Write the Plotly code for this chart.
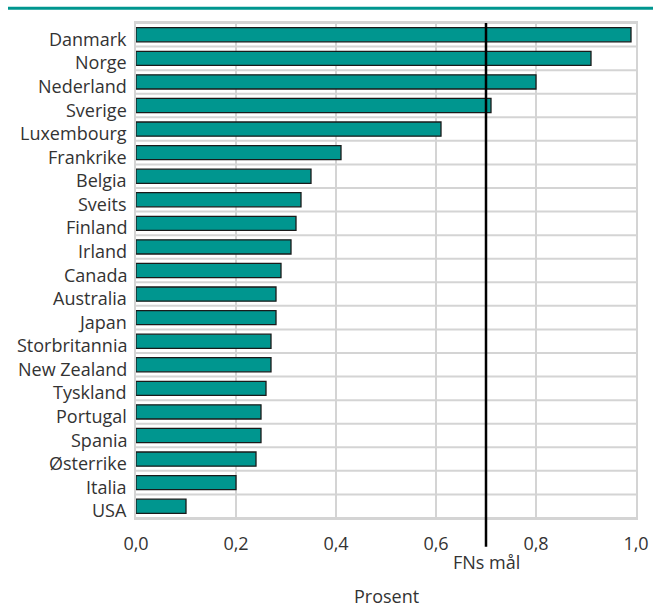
import plotly.graph_objects as go

countries = ["Danmark", "Norge", "Nederland", "Sverige", "Luxembourg", "Frankrike",
             "Belgia", "Sveits", "Finland", "Irland", "Canada", "Australia", "Japan",
             "Storbritannia", "New Zealand", "Tyskland", "Portugal", "Spania",
             "Østerrike", "Italia", "USA"]
values = [0.99, 0.91, 0.80, 0.71, 0.61, 0.41, 0.35, 0.33, 0.32, 0.31, 0.29, 0.28, 0.28,
          0.27, 0.27, 0.26, 0.25, 0.25, 0.24, 0.20, 0.10]
goal = 0.7
x_ticks = [0.0, 0.2, 0.4, 0.6, 0.8, 1.0]

teal = "#00968F"
grid = "#D4D4D4"
txt = "#333333"

pos = list(range(len(countries)))
bounds = [i - 0.5 for i in range(len(countries) + 1)]

fig = go.Figure()
fig.add_trace(go.Bar(
    x=values, y=pos, orientation="h", width=0.6,
    hovertext=countries, hoverinfo="text+x",
    marker=dict(color=teal, line=dict(color="#1a1a1a", width=1.3)),
))

fig.update_layout(
    width=653, height=606,
    margin=dict(l=136, r=17, t=23, b=88),
    paper_bgcolor="white", plot_bgcolor="white",
    font=dict(family="Open Sans, Noto Sans, sans-serif", size=18, color=txt),
    separators=", ",
    showlegend=False,
    xaxis=dict(range=[0, 1.0], tickvals=x_ticks, tickformat=".1f",
               showgrid=True, gridcolor=grid, gridwidth=2,
               zeroline=False, showline=True, mirror=True, linecolor=grid,
               linewidth=2, ticks="",
               ticklabelstandoff=8, fixedrange=True, automargin=False),
    yaxis=dict(range=[len(countries) - 0.5, -0.5], showticklabels=False,
               showgrid=False, zeroline=False, ticks="",
               showline=True, mirror=True, linecolor=grid, linewidth=2,
               automargin=False, fixedrange=True),
)

# horizontal grid lines at category boundaries
for b in bounds:
    fig.add_shape(type="line", xref="paper", yref="y", x0=0, x1=1, y0=b, y1=b,
                  layer="below", line=dict(color=grid, width=2))

# category labels (slightly below bar centre, as in the reference)
for p, c in zip(pos, countries):
    fig.add_annotation(x=0, xref="paper", y=p, yref="y", text=c, showarrow=False,
                       xanchor="right", yanchor="middle", xshift=-7, yshift=-4,
                       font=dict(size=18, color=txt))

# goal line
fig.add_shape(type="line", xref="x", yref="paper", x0=goal, x1=goal,
              y0=-0.058, y1=1.0, line=dict(color="black", width=2.5))
fig.add_annotation(x=goal, xref="x", y=-0.089, yref="paper", text="FNs mål",
                   showarrow=False, font=dict(size=18, color=txt), yanchor="middle")
fig.add_annotation(x=0.5, xref="paper", y=-0.158, yref="paper", text="Prosent",
                   showarrow=False, font=dict(size=18, color=txt), yanchor="middle")
# top rule
fig.add_shape(type="line", xref="paper", yref="paper", x0=-0.256, x1=1.04,
              y0=1.03, y1=1.03, line=dict(color=teal, width=3))

fig.write_html("out.html", config={"displayModeBar": False},
               post_script="document.body.style.margin='0px';")
